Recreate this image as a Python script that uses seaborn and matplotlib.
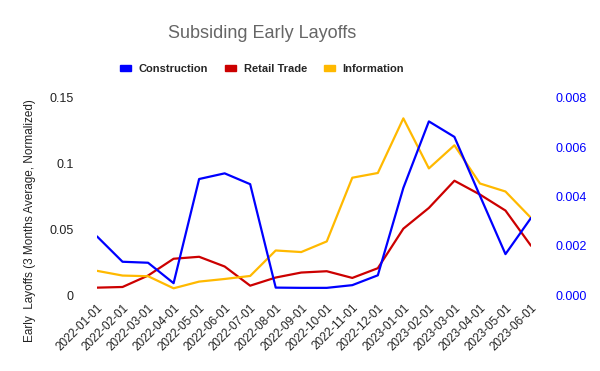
import matplotlib
matplotlib.use("Agg")
import matplotlib.pyplot as plt
import seaborn as sns
import pandas as pd
from matplotlib.patches import Patch

months = ["2022-01-01", "2022-02-01", "2022-03-01", "2022-04-01", "2022-05-01", "2022-06-01",
          "2022-07-01", "2022-08-01", "2022-09-01", "2022-10-01", "2022-11-01", "2022-12-01",
          "2023-01-01", "2023-02-01", "2023-03-01", "2023-04-01", "2023-05-01", "2023-06-01"]
construction = [0.00238, 0.00135, 0.00131, 0.00048, 0.00471, 0.00494, 0.0045, 0.0003, 0.00029,
                0.00029, 0.0004, 0.0008, 0.00435, 0.00705, 0.00642, 0.00403, 0.00166, 0.00313]
retail = [0.0056, 0.0061, 0.0148, 0.0276, 0.0291, 0.0217, 0.0071, 0.0133, 0.0171, 0.0181,
          0.0130, 0.0204, 0.0505, 0.0663, 0.0870, 0.0765, 0.0643, 0.0375]
information = [0.0184, 0.0148, 0.0143, 0.0051, 0.0102, 0.0122, 0.0145, 0.0339, 0.0327, 0.0408,
               0.0893, 0.0929, 0.1345, 0.0964, 0.1140, 0.0849, 0.0788, 0.0587]
left_ticks = [0, 0.05, 0.1, 0.15]
left_tick_labels = ["0", "0.05", "0.1", "0.15"]
right_ticks = [0, 0.002, 0.004, 0.006, 0.008]
right_tick_labels = ["0.000", "0.002", "0.004", "0.006", "0.008"]

BLUE = "#0000ff"
RED = "#cc0000"
YELLOW = "#ffb900"

sns.set_theme(style="white")
plt.rcParams['font.family'] = ['Liberation Sans', 'DejaVu Sans']

df = pd.DataFrame({"x": list(range(len(months))), "Construction": construction,
                   "Retail Trade": retail, "Information": information})

fig = plt.figure(figsize=(6, 3.71), dpi=100)
ax = fig.add_axes([97/600, 1-295/371, (531-97)/600, (295-98)/371])
ax2 = ax.twinx()

sns.lineplot(data=df, x="x", y="Retail Trade", ax=ax, color=RED, linewidth=1.6)
sns.lineplot(data=df, x="x", y="Information", ax=ax, color=YELLOW, linewidth=1.6)
sns.lineplot(data=df, x="x", y="Construction", ax=ax2, color=BLUE, linewidth=1.6)

ax.set_xlim(0, len(months)-1)
ax.set_ylim(0, 0.15)
ax2.set_ylim(0, 0.008)
ax.set_yticks(left_ticks)
ax.set_yticklabels(left_tick_labels, fontsize=9, color="#222222")
ax2.set_yticks(right_ticks)
ax2.set_yticklabels(right_tick_labels, fontsize=9, color=BLUE)
ax.set_xticks(range(len(months)))
ax.set_xticklabels(months, rotation=45, ha="right", rotation_mode="anchor", fontsize=8.5, color="#222222")
ax.tick_params(axis="y", length=0, pad=17)
ax.tick_params(axis="x", length=0, pad=5)
ax2.tick_params(axis="y", length=0, pad=18)
ax.set_xlabel("")
ax.set_ylabel("")
ax2.set_ylabel("")
for a in (ax, ax2):
    for s in a.spines.values():
        s.set_visible(False)
    a.grid(False)

fig.text(30/600, 1-221/371, "Early  Layoffs (3 Months Average, Normalized)", rotation=90,
         ha="center", va="center", fontsize=8.5, color="#222222")
fig.text(262/600, 1-33/371, "Subsiding Early Layoffs", ha="center", va="center", fontsize=13, color="#666666")
handles = [Patch(color=BLUE), Patch(color=RED), Patch(color=YELLOW)]
fig.legend(handles, ["Construction", "Retail Trade", "Information"], loc="center",
           bbox_to_anchor=(262/600, 1-69/371), ncol=3, frameon=False,
           prop={"weight": "bold", "size": 8}, handlelength=1.0, handleheight=0.35,
           columnspacing=1.5, handletextpad=0.7)

fig.savefig("out.png", dpi=100)
